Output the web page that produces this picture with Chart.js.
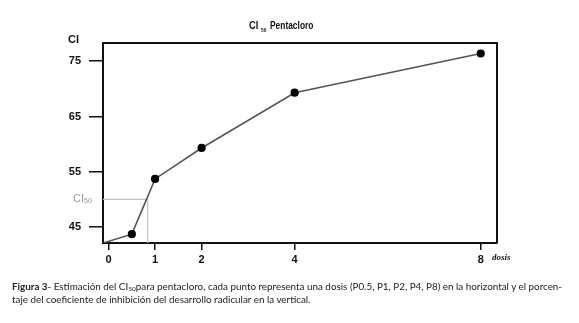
<!DOCTYPE html>
<html>
<head>
<meta charset="utf-8">
<script src="https://cdn.jsdelivr.net/npm/chart.js@4.4.0/dist/chart.umd.min.js"></script>
<style>
    body { margin: 0; background: #fff; }
    #wrap { position: relative; width: 579px; height: 323px; }
    #caption {
        position: absolute; left: 12px; top: 281px; width: 567px;
        font-family: Lato, "Open Sans", sans-serif; font-size: 9.85px; line-height: 10px;
        color: #222; white-space: nowrap;
    }
    #caption sub { font-size: 6.5px; vertical-align: -1px; }
</style>
</head>
<body>
<div id="wrap">
    <canvas id="ciChart" width="579" height="323"></canvas>
    <div id="caption"><b>Figura 3</b>- Estimación del CI<sub>50</sub>para pentacloro, cada punto representa una dosis (P0.5, P1, P2, P4, P8) en la horizontal y el porcen-<br>taje del coeficiente de inhibición del desarrollo radicular en la vertical.</div>
</div>
<script>
// data
const doses = [-0.12, 0.5, 1, 2, 4, 8];
const ciValues = [42.1, 43.7, 53.7, 59.3, 69.3, 76.4];
const markerSizes = [0, 3.3, 3.3, 3.3, 3.3, 3.3];
const xTicks = [0, 1, 2, 4, 8];
const yTicks = [45, 55, 65, 75];
const ci50Value = 50;
const ci50Dose = 0.84;

const points = doses.map((d, i) => ({ x: d, y: ciValues[i] }));

const boldFont = { family: 'Liberation Sans, Arial, sans-serif', size: 11, weight: 'bold' };

// draws text squeezed horizontally (the original uses a narrow face)
function narrowText(ctx, txt, x, y, sx) {
    ctx.save();
    ctx.translate(x, y);
    ctx.scale(sx, 1);
    ctx.fillText(txt, 0, 0);
    ctx.restore();
}

const decor = {
    id: 'decor',
    beforeDatasetsDraw(chart) {
        const ctx = chart.ctx;
        const xs = chart.scales.x, ys = chart.scales.y;
        const a = chart.chartArea;
        // CI50 guide lines
        const px = xs.getPixelForValue(ci50Dose);
        const py = ys.getPixelForValue(ci50Value);
        ctx.save();
        ctx.strokeStyle = '#c4c4c4';
        ctx.lineWidth = 1.2;
        ctx.beginPath();
        ctx.moveTo(a.left, py);
        ctx.lineTo(px, py);
        ctx.lineTo(px, a.bottom);
        ctx.stroke();
        ctx.restore();
    },
    afterDraw(chart) {
        const ctx = chart.ctx;
        const a = chart.chartArea;
        const ys = chart.scales.y;
        ctx.save();
        // top and right sides of the frame
        ctx.strokeStyle = '#111';
        ctx.lineWidth = 2;
        ctx.beginPath();
        ctx.moveTo(a.left, a.top);
        ctx.lineTo(a.right, a.top);
        ctx.lineTo(a.right, a.bottom);
        ctx.stroke();

        // title with subscript
        ctx.fillStyle = '#111';
        ctx.textBaseline = 'alphabetic';
        ctx.font = 'bold 11px "Liberation Sans", Arial, sans-serif';
        narrowText(ctx, 'CI', 249, 29, 0.85);
        ctx.font = 'bold 6px "Liberation Sans", Arial, sans-serif';
        narrowText(ctx, '50', 261, 32, 0.8);
        ctx.font = 'bold 10.5px "Liberation Sans", Arial, sans-serif';
        narrowText(ctx, 'Pentacloro', 270, 29, 0.8);

        // y axis name
        ctx.font = 'bold 11px "Liberation Sans", Arial, sans-serif';
        ctx.fillText('CI', 68, 43);

        // CI50 label
        const py = ys.getPixelForValue(ci50Value);
        ctx.fillStyle = '#9a9a9a';
        ctx.textBaseline = 'middle';
        ctx.font = '11px "Liberation Sans", Arial, sans-serif';
        ctx.fillText('CI', 73, py);
        ctx.font = '7px "Liberation Sans", Arial, sans-serif';
        ctx.fillText('50', 84, py + 2);

        // x axis name
        ctx.fillStyle = '#111';
        ctx.font = 'italic bold 9px "Liberation Serif", serif';
        ctx.textBaseline = 'alphabetic';
        ctx.fillText('dosis', 492, 260);
        ctx.restore();
    }
};

new Chart(document.getElementById('ciChart').getContext('2d'), {
    type: 'scatter',
    data: {
        datasets: [{
            data: points,
            showLine: true,
            borderColor: '#555',
            borderWidth: 1.6,
            pointRadius: markerSizes,
            pointBackgroundColor: '#000',
            pointBorderColor: '#000',
            tension: 0
        }]
    },
    options: {
        responsive: false,
        animation: false,
        layout: { padding: { top: 43, right: 82, left: 0, bottom: 0 } },
        plugins: {
            legend: { display: false },
            tooltip: { enabled: false }
        },
        scales: {
            x: {
                type: 'linear',
                min: -0.12,
                max: 8.35,
                afterBuildTicks(scale) {
                    scale.ticks = xTicks.map(v => ({ value: v }));
                },
                afterFit(scale) { scale.height = 80; },
                grid: {
                    drawOnChartArea: false,
                    drawTicks: true,
                    tickLength: 7,
                    color: '#111',
                    lineWidth: 1.5
                },
                border: { display: true, color: '#111', width: 2 },
                ticks: { color: '#111', font: boldFont, padding: 3, maxRotation: 0 }
            },
            y: {
                type: 'linear',
                min: 42.1,
                max: 78.3,
                afterBuildTicks(scale) {
                    scale.ticks = yTicks.map(v => ({ value: v }));
                },
                afterFit(scale) { scale.width = 103; },
                grid: {
                    drawOnChartArea: false,
                    drawTicks: true,
                    tickLength: 14,
                    color: '#111',
                    lineWidth: 1.5
                },
                border: { display: true, color: '#111', width: 2 },
                ticks: { color: '#111', font: boldFont, padding: 8 }
            }
        }
    },
    plugins: [decor]
});
</script>
</body>
</html>
